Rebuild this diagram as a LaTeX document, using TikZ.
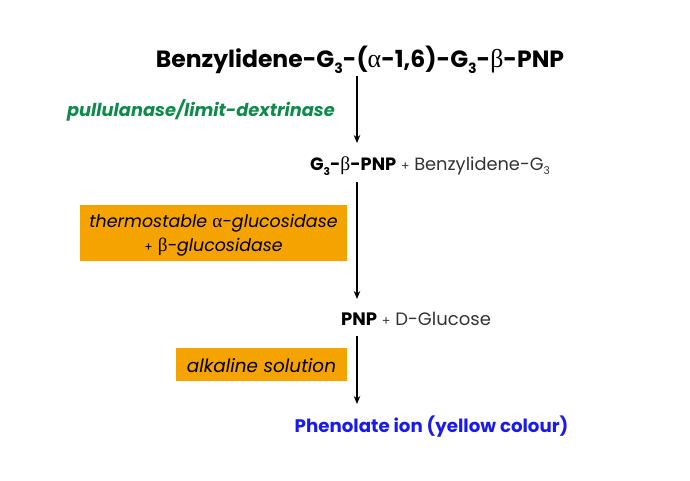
\documentclass[tikz,border=0pt]{standalone}
\usepackage{fontspec}
\setmainfont{Poppins}
\newfontfamily\grk{Liberation Serif}
\usetikzlibrary{arrows.meta}
\definecolor{boxorange}{HTML}{F5A300}
\definecolor{enzgreen}{HTML}{0E8A4A}
\definecolor{ionblue}{HTML}{1A1AF0}
\definecolor{lighttext}{HTML}{333333}
\newcommand\lowsub[1]{\raisebox{-0.45ex}{\scalebox{0.6}{#1}}}
\newcommand\galpha{{\grk\mdseries\upshape\scalebox{1.1}{α}}}
\newcommand\gbeta{{\grk\mdseries\upshape\scalebox{1.1}{β}}}
\tikzset{
  lbl/.style={inner sep=0pt, anchor=center},
  titletxt/.style={lbl, font=\fontsize{23.5}{27}\selectfont\bfseries},
  prodtxt/.style={lbl, font=\fontsize{17.8}{21}\selectfont},
  enzbox/.style={fill=boxorange, draw=none, inner sep=0pt},
  enztxt/.style={lbl, align=center},
  arr/.style={-{Stealth[length=8pt,width=6.5pt]}, line width=1.6pt, black},
}
\begin{document}
\begin{tikzpicture}[x=1pt,y=-1pt]
\useasboundingbox (0,0) rectangle (690,480);
\node[titletxt] (t) at (360,60) {Benzylidene-G\lowsub{3}-(\galpha-1,6)-G\lowsub{3}-\gbeta-PNP};
\node[lbl, font=\fontsize{17.8}{21}\selectfont\bfseries\itshape, text=enzgreen] (e1) at (201,110) {pullulanase/limit-dextrinase};
\node[prodtxt] (p1) at (430,166) {\textbf{G\lowsub{3}-\gbeta-PNP} {\color{lighttext}\scalebox{0.7}{+} Benzylidene-G\lowsub{3}}};
\node[enzbox, minimum width=267pt, minimum height=56pt] (e2) at (213.5,233) {};
\node[enztxt, font=\fontsize{17.4}{23.5}\selectfont\itshape] (e2t) at (213.5,235) {thermostable \galpha-glucosidase\\{\upshape\scalebox{0.7}{+}} \gbeta-glucosidase};
\node[prodtxt, font=\fontsize{18}{21}\selectfont] (p2) at (416,319) {\textbf{PNP} {\color{lighttext}\scalebox{0.7}{+} D-Glucose}};
\node[enzbox, minimum width=171pt, minimum height=33pt] (e3) at (261.5,364.5) {};
\node[enztxt, font=\fontsize{18.4}{22}\selectfont\itshape] (e3t) at (261.5,366) {alkaline solution};
\node[lbl, font=\fontsize{18.2}{21}\selectfont\bfseries, text=ionblue] (p3) at (431.5,427) {Phenolate ion (yellow colour)};
\coordinate (a1s) at (357,76);
\coordinate (a1e) at (357,143);
\coordinate (a2s) at (357,182);
\coordinate (a2e) at (357,299);
\coordinate (a3s) at (357,336);
\coordinate (a3e) at (357,404);
\draw[arr] (a1s) -- (a1e);
\draw[arr] (a2s) -- (a2e);
\draw[arr] (a3s) -- (a3e);
\end{tikzpicture}
\end{document}
